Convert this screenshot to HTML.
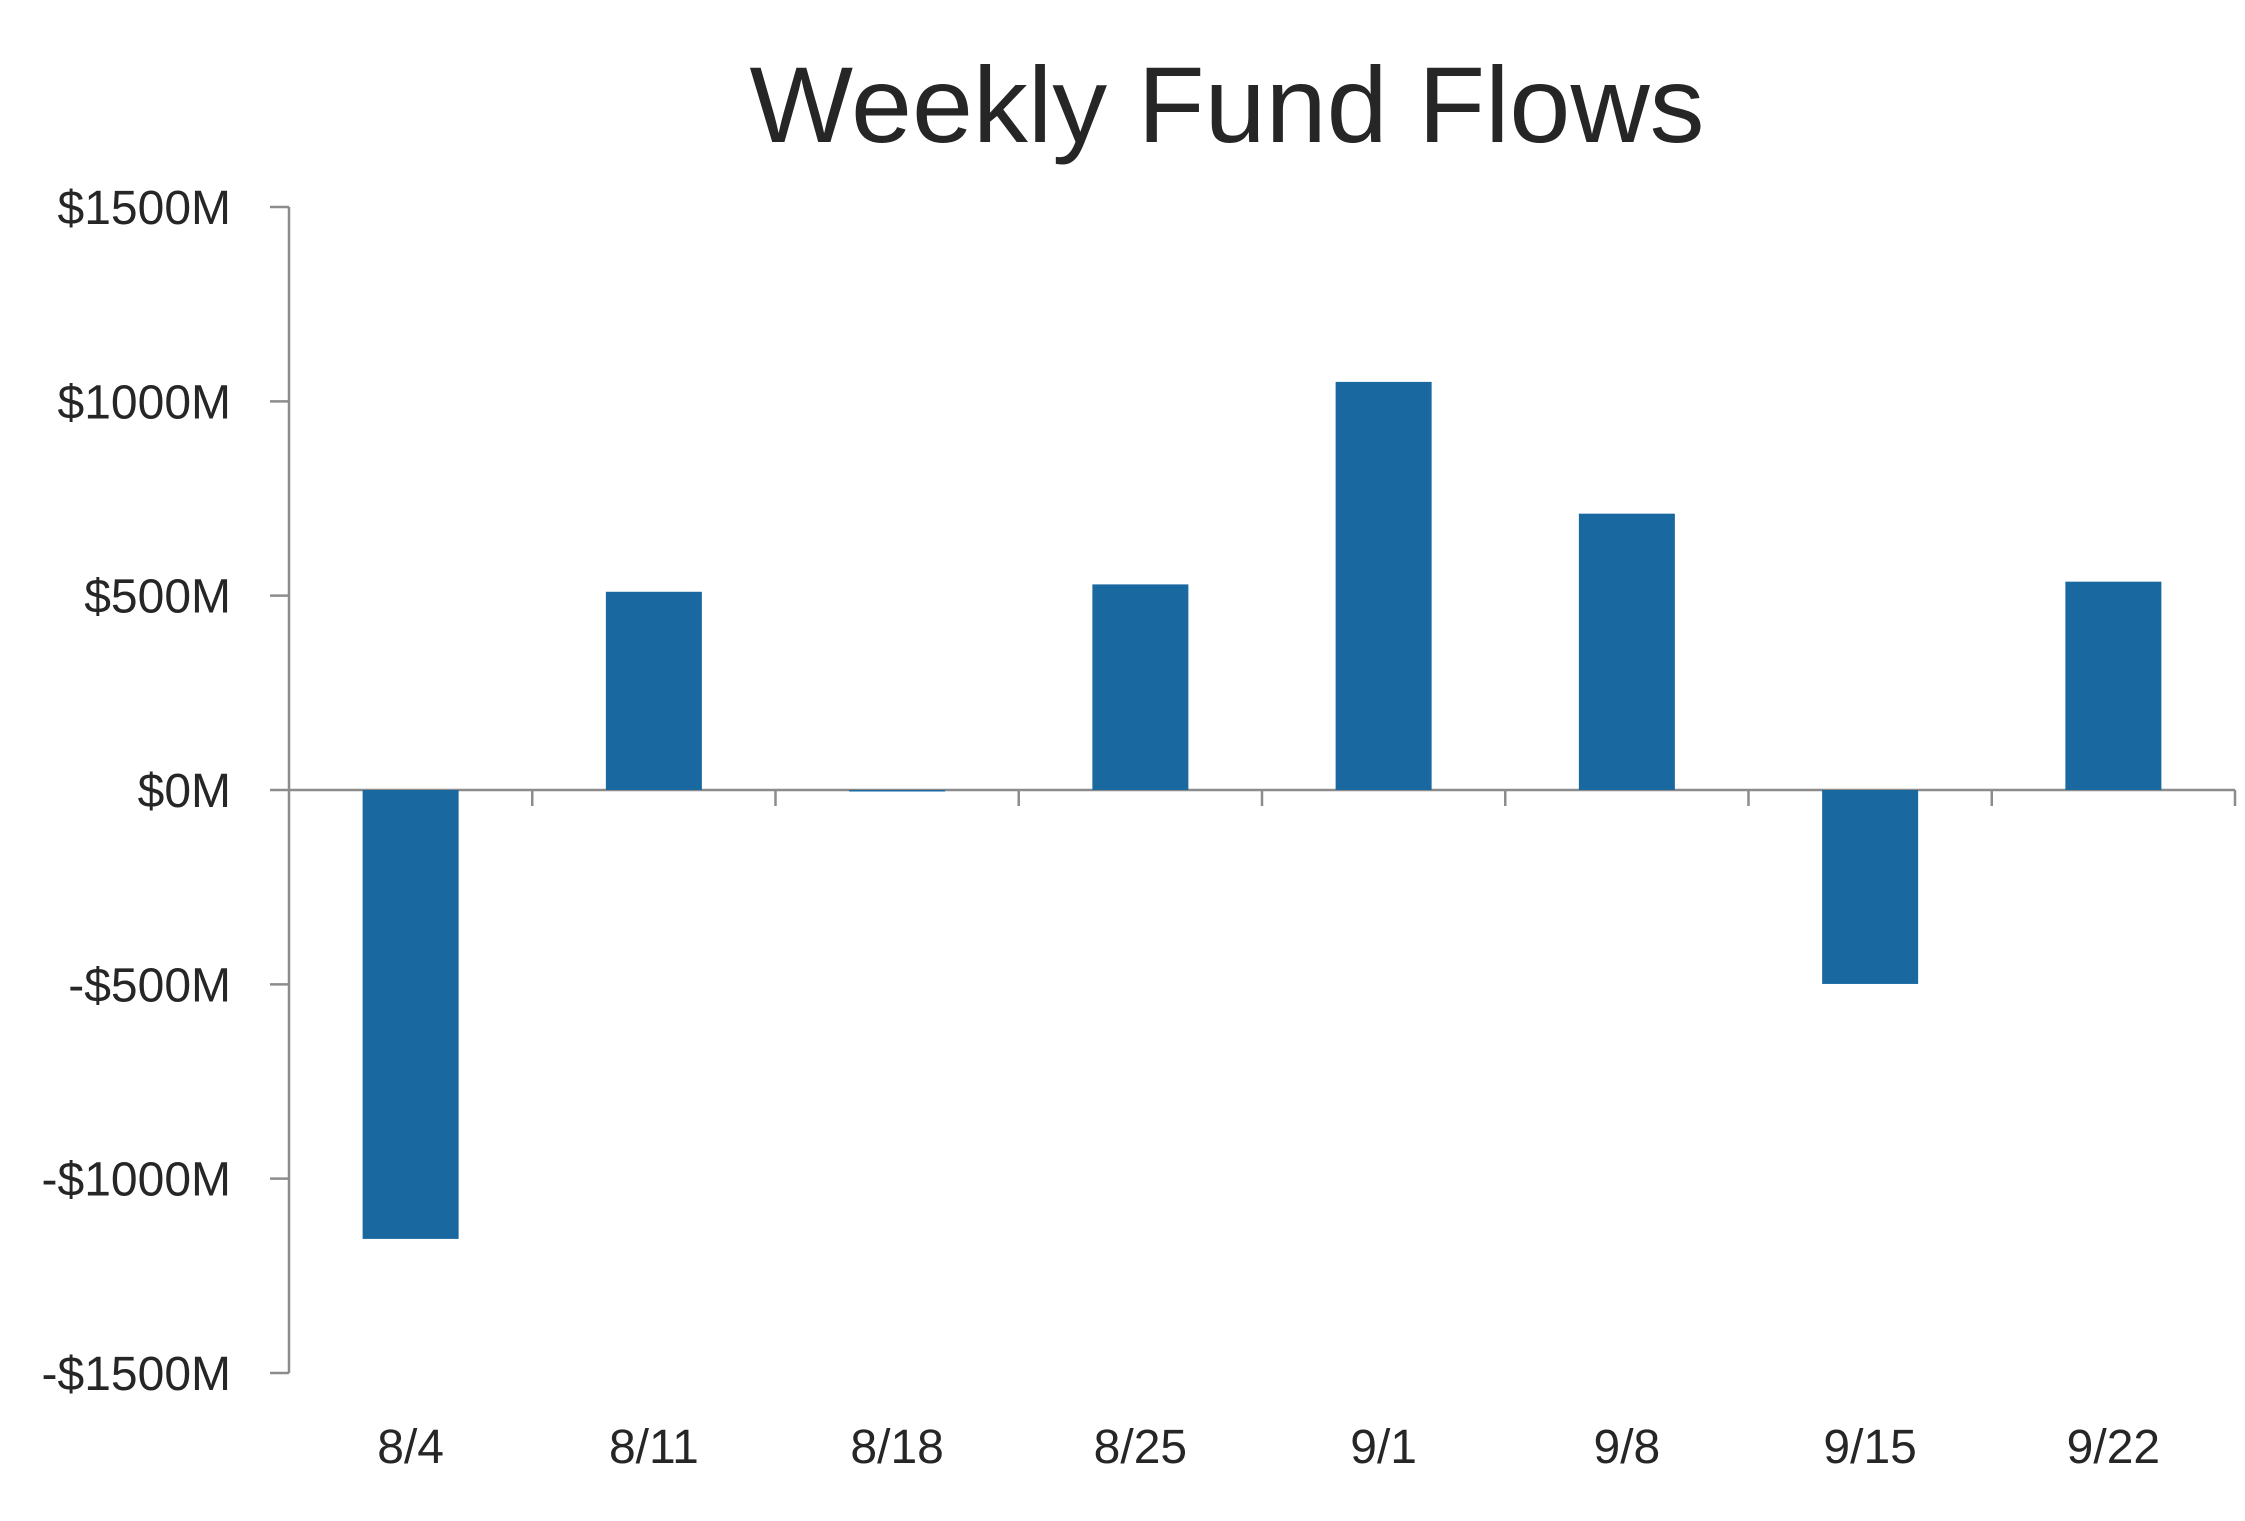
<!DOCTYPE html>
<html><head><meta charset="utf-8"><style>
html,body{margin:0;padding:0;background:#fff;}
svg{display:block;font-family:"Liberation Sans",sans-serif;}
</style></head><body>
<svg id="chart" width="2245" height="1521" viewBox="0 0 2245 1521" xmlns="http://www.w3.org/2000/svg">
<text x="1227" y="142" text-anchor="middle" font-size="108" fill="#262626" textLength="955" lengthAdjust="spacingAndGlyphs">Weekly Fund Flows</text>
<g id="yaxis"></g>
<g id="xaxis"></g>
<g id="bars"></g>
</svg>
<script>
const categories = ["8/4","8/11","8/18","8/25","9/1","9/8","9/15","9/22"];
const flows = [-1155, 510, -3, 529, 1050, 711, -499, 536];
const yTicks = [1500, 1000, 500, 0, -500, -1000, -1500];
const yTickLabels = ["$1500M","$1000M","$500M","$0M","-$500M","-$1000M","-$1500M"];

const NS = "http://www.w3.org/2000/svg";
const plotLeft = 289, plotRight = 2235, yTop = 207, yBottom = 1373, yMax = 1500, yMin = -1500;
function yScale(v){ return yTop + (yMax - v) / (yMax - yMin) * (yBottom - yTop); }
const band = (plotRight - plotLeft) / categories.length;
function xCenter(i){ return plotLeft + band * (i + 0.5); }
function mk(tag, attrs, parent){ const e = document.createElementNS(NS, tag); for (const k in attrs) e.setAttribute(k, attrs[k]); parent.appendChild(e); return e; }

const yg = document.getElementById('yaxis');
const axisLine = mk('line', {x1: plotLeft, x2: plotLeft, y1: yScale(yMax), y2: yScale(yMin), stroke: '#8c8c8c', 'stroke-width': 2.5}, yg);


yTicks.forEach((t, i) => {
  const y = yScale(t);
  const tk = mk('line', {x1: plotLeft - 19, x2: plotLeft, y1: y, y2: y, stroke: '#8c8c8c', 'stroke-width': 2.5}, yg);
  
  
  const lb = mk('text', {x: 231, y: y + 17, 'text-anchor': 'end', 'font-size': 48, fill: '#262626'}, yg);
  
  
  lb.textContent = yTickLabels[i];
});

const xg = document.getElementById('xaxis');
const y0 = yScale(0);
const xl = mk('line', {x1: plotLeft, x2: plotRight, y1: y0, y2: y0, stroke: '#8c8c8c', 'stroke-width': 2.5}, xg);


for (let i = 1; i <= categories.length; i++) {
  const x = plotLeft + band * i;
  const tk = mk('line', {x1: x, x2: x, y1: y0, y2: y0 + 16, stroke: '#8c8c8c', 'stroke-width': 2.5}, xg);
  
  
}
categories.forEach((c, i) => {
  const lb = mk('text', {x: xCenter(i), y: 1463, 'text-anchor': 'middle', 'font-size': 48, fill: '#262626'}, xg);
  
  
  lb.textContent = c;
});

const bg = document.getElementById('bars');
const barW = 96;
flows.forEach((v, i) => {
  const ya = yScale(v), yb = yScale(0);
  const r = mk('rect', {x: xCenter(i) - barW / 2, y: Math.min(ya, yb), width: barW, height: Math.max(Math.abs(yb - ya), 1.5), fill: '#1a68a0'}, bg);
  
  
});
</script>
</body></html>
